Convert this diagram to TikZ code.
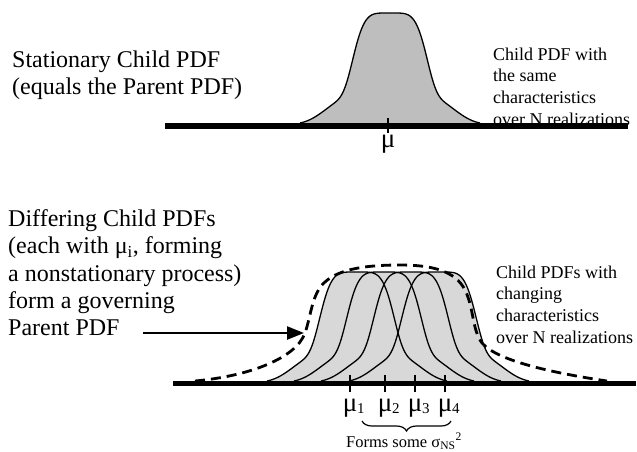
\documentclass[tikz,border=0pt]{standalone}
\usepackage{fontspec}
\setmainfont{Liberation Serif}
\usetikzlibrary{arrows.meta,decorations.pathreplacing}
\definecolor{topgray}{HTML}{BEBEBE}
\definecolor{botgray}{HTML}{D8D8D8}
\tikzset{
  declare function={pdfg(\d)=0.7*exp(-(abs(\d)/38.8)^5)+0.3*exp(-(\d*\d/4624)^2);
                    pdfn(\d)=(pdfg(\d)-0.01395)/0.98605;},
  axisline/.style={line width=5.8pt},
  tickline/.style={line width=1.2pt},
  curveline/.style={line width=1.3pt, line join=round},
  envelope/.style={line width=2.8pt, dash pattern=on 10pt off 6pt},
  bigtext/.style={anchor=north west, inner sep=0pt, align=left, font=\fontsize{24}{27.2}\selectfont},
  smalltext/.style={anchor=north west, inner sep=0pt, align=left, font=\fontsize{18}{21.7}\selectfont},
  mulabel/.style={anchor=base, inner sep=0pt, font=\fontsize{27}{27}\selectfont},
  pointer/.style={line width=2.4pt, -{Triangle[length=17pt,width=13pt]}},
  bracestyle/.style={line width=1.2pt, decorate, decoration={brace, mirror, amplitude=10pt}},
}
\newcommand{\musub}[1]{μ\rlap{\raisebox{-2pt}{\fontsize{15}{15}\selectfont #1}}}
\begin{document}
\begin{tikzpicture}[x=1pt, y=-1pt]
\useasboundingbox (0,0) rectangle (637,451);

% ---------- top: stationary child PDF ----------
\fill[topgray] plot[domain=-90:90, samples=121, smooth] ({390+\x},{123-110*pdfn(\x)}) -- cycle;
\draw[curveline] plot[domain=-90:90, samples=121, smooth] ({390+\x},{123-110*pdfn(\x)});
\draw[axisline] (165,126) -- (628,126);
\draw[tickline] (388,118) -- (388,133);
\node[mulabel] (mu) at (388,147) {μ};

\node[bigtext] (tl) at (12,50.5) {Stationary Child PDF\\(equals the Parent PDF)};
\node[smalltext] (tr) at (493,47.5) {Child PDF with\\the same\\characteristics\\over N realizations};

% ---------- bottom: differing child PDFs ----------
\foreach \c in {357,384,411,439}{
  \fill[botgray] plot[domain=-90:90, samples=121, smooth] ({\c+\x},{381-109*pdfn(\x)}) -- cycle;
}
\foreach \c in {357,384,411,439}{
  \draw[curveline] plot[domain=-90:90, samples=121, smooth] ({\c+\x},{381-109*pdfn(\x)});
}
\draw[envelope] (195,381) .. controls (250,376) and (296,358) .. (305,333)
  .. controls (311,316) and (312,293) .. (325,282)
  .. controls (340,268) and (370,265) .. (400,265)
  .. controls (430,265) and (455,270) .. (465,290)
  .. controls (474,308) and (472,330) .. (482,343)
  .. controls (498,362) and (560,374) .. (607,381);
\draw[axisline] (173,383.5) -- (636,383.5);
\foreach \t in {350,385,415,445}{
  \draw[tickline] (\t,375) -- (\t,392);
}
\node[mulabel] (mu1) at (350,411) {\musub{1}};
\node[mulabel] (mu2) at (385,411) {\musub{2}};
\node[mulabel] (mu3) at (415,411) {\musub{3}};
\node[mulabel] (mu4) at (445,411) {\musub{4}};

\coordinate (brl) at (362,421);
\coordinate (brr) at (451,421);
\draw[bracestyle] (brl) -- (brr);
\node[anchor=base, inner sep=0pt, font=\fontsize{16.5}{16.5}\selectfont] (forms) at (404,447)
  {Forms some σ\textsubscript{NS}\textsuperscript{2}};

\node[bigtext] (bl) at (8,209.5) {Differing Child PDFs\\(each with μ\textsubscript{i}, forming\\a nonstationary process)\\form a governing\\Parent PDF};
\node[smalltext] (br) at (496,265.5) {Child PDFs with\\changing\\characteristics\\over N realizations};

\coordinate (arrtail) at (143,333);
\coordinate (arrhead) at (304,333);
\draw[pointer] (arrtail) -- (arrhead);
\end{tikzpicture}
\end{document}
